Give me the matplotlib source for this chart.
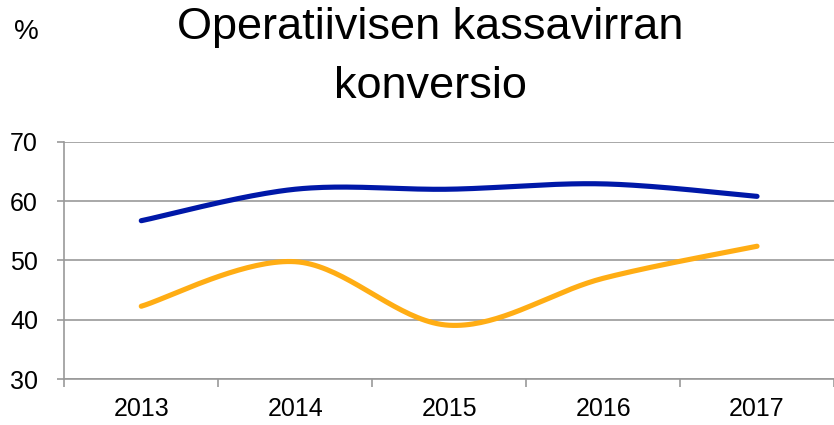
import numpy as np
from matplotlib import pyplot as plt

years = ["2013", "2014", "2015", "2016", "2017"]
blue_values = [56.7, 62.0, 62.0, 62.9, 60.8]
orange_values = [42.3, 49.8, 39.1, 47.0, 52.4]

BLUE = "#0018a8"
ORANGE = "#ffad14"
GRID = "#999999"


def smooth(xs, ys, steps=40):
    # Excel style smoothed line: cubic bezier through the points
    xs = np.asarray(xs, dtype=float)
    ys = np.asarray(ys, dtype=float)
    px = np.concatenate([[xs[0]], xs, [xs[-1]]])
    py = np.concatenate([[ys[0]], ys, [ys[-1]]])
    out_x, out_y = [], []
    t = np.linspace(0, 1, steps)
    for i in range(1, len(px) - 2):
        p0 = np.array([px[i], py[i]])
        p3 = np.array([px[i + 1], py[i + 1]])
        c1 = p0 + (np.array([px[i + 1], py[i + 1]]) - np.array([px[i - 1], py[i - 1]])) / 6
        c2 = p3 - (np.array([px[i + 2], py[i + 2]]) - np.array([px[i], py[i]])) / 6
        b = ((1 - t) ** 3)[:, None] * p0 + (3 * (1 - t) ** 2 * t)[:, None] * c1 \
            + (3 * (1 - t) * t ** 2)[:, None] * c2 + (t ** 3)[:, None] * p3
        out_x.extend(b[:, 0])
        out_y.extend(b[:, 1])
    return out_x, out_y


plt.rcParams["font.family"] = ["Liberation Sans", "DejaVu Sans"]

fig = plt.figure(figsize=(8.34, 4.25), dpi=100)
ax = fig.add_axes([64.3 / 834, 1 - 379.3 / 425, (834 - 64.3) / 834, (379.3 - 141.7) / 425])

x = np.arange(len(years))
for vals, col in [(blue_values, BLUE), (orange_values, ORANGE)]:
    sx, sy = smooth(x, vals)
    ax.plot(sx, sy, color=col, lw=3.7, solid_capstyle="round", zorder=3)

ax.set_ylim(30, 70)
ax.set_xlim(-0.5, 4.5 - 3 / 154.6)
ax.set_yticks([30, 40, 50, 60, 70])
ax.set_xticks(x)
ax.set_xticklabels(years)
ax.set_xticks(np.arange(-0.5, 5, 1), minor=True)
ax.grid(axis="y", color=GRID, lw=1.2)
ax.set_axisbelow(True)

for side in ["top", "right"]:
    ax.spines[side].set_visible(False)
for side in ["left", "bottom"]:
    ax.spines[side].set_color(GRID)
    ax.spines[side].set_linewidth(1.2)

ax.tick_params(axis="y", length=5, width=1.2, color=GRID, labelsize=18, pad=14)
ax.tick_params(axis="x", which="major", length=0, labelsize=18, pad=13)
ax.tick_params(axis="x", which="minor", length=6, width=1.2, color=GRID)

fig.text(430 / 834, 1 - 39.5 / 425, "Operatiivisen kassavirran",
         ha="center", va="baseline", fontsize=32.5)
fig.text(430 / 834, 1 - 97.5 / 425, "konversio",
         ha="center", va="baseline", fontsize=32.5)
fig.text(14 / 834, 1 - 39 / 425, "%", ha="left", va="baseline", fontsize=20)

fig.savefig("out.png", dpi=100)
